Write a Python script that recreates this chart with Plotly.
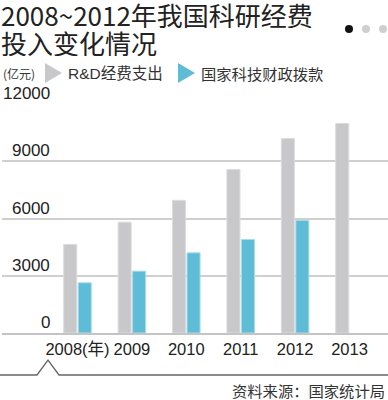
import plotly.graph_objects as go

years = ["2008(年)", "2009", "2010", "2011", "2012", "2013"]
rd_spending = [4640, 5810, 6950, 8570, 10190, 10980]
fiscal_grants = [2630, 3240, 4200, 4900, 5900, None]
y_ticks = [0, 3000, 6000, 9000, 12000]
y_tick_labels = ["0", "3000", "6000", "9000", "12000"]

W, H = 388, 400
ML, MR, MT, MB = 2, 0, 104, 67
PW, PH = W - ML - MR, H - MT - MB
GRAY = "#c8c8ca"
BLUE = "#5ebcd6"

fig = go.Figure()
fig.add_trace(go.Bar(x=years, y=rd_spending, name="R&D经费支出",
                     marker=dict(color=GRAY, line=dict(color="#dcdcde", width=1))))
fig.add_trace(go.Bar(x=years, y=fiscal_grants, name="国家科技财政拨款",
                     marker=dict(color=BLUE, line=dict(color="#a8dcea", width=1))))

def px(x):
    return (x - ML) / PW

def py(y):
    return (H - MB - y) / PH

annotations = []
for v, t in zip(y_ticks, y_tick_labels):
    annotations.append(dict(x=px(52), y=v, xref="paper", yref="y", text=t,
                            showarrow=False, xanchor="right", yanchor="bottom",
                            yshift=-1,
                            font=dict(family="Liberation Sans, Noto Sans", size=17, color="#222")))

for text, cy in [("2008~2012年我国科研经费", 14.5), ("投入变化情况", 42.5)]:
    annotations.append(dict(x=px(0), y=py(cy), xref="paper", yref="paper",
                            text=text, showarrow=False, xanchor="left", yanchor="middle",
                            height=27, valign="middle", borderpad=0,
                            font=dict(family="Noto Sans CJK SC", size=26, color="#222")))
annotations.append(dict(x=px(1), y=py(73), xref="paper", yref="paper", text="(亿元)",
                        showarrow=False, xanchor="left", yanchor="middle",
                        font=dict(family="Noto Sans CJK SC", size=12, color="#333")))
annotations.append(dict(x=px(66), y=py(73), xref="paper", yref="paper", text="R&D经费支出",
                        showarrow=False, xanchor="left", yanchor="middle",
                        font=dict(family="Liberation Sans, Noto Sans CJK SC", size=15.5, color="#333")))
annotations.append(dict(x=px(199), y=py(73), xref="paper", yref="paper", text="国家科技财政拨款",
                        showarrow=False, xanchor="left", yanchor="middle",
                        font=dict(family="Noto Sans CJK SC", size=15.3, color="#333")))
annotations.append(dict(x=px(387), y=py(390), xref="paper", yref="paper", text="资料来源：国家统计局",
                        showarrow=False, xanchor="right", yanchor="middle",
                        font=dict(family="Noto Sans CJK SC", size=15.3, color="#333")))

shapes = []
shapes.append(dict(type="path", xref="paper", yref="paper",
                   path=f"M {px(45)} {py(63)} L {px(62)} {py(73)} L {px(45)} {py(83)} Z",
                   fillcolor=GRAY, line=dict(width=0)))
shapes.append(dict(type="path", xref="paper", yref="paper",
                   path=f"M {px(178)} {py(63)} L {px(195)} {py(73)} L {px(178)} {py(83)} Z",
                   fillcolor=BLUE, line=dict(width=0)))
for cx, col in [(349, "#111"), (366, "#cfcfcf"), (383, "#cfcfcf")]:
    r = 4
    shapes.append(dict(type="circle", xref="paper", yref="paper",
                       x0=px(cx - r), x1=px(cx + r), y0=py(29 + r), y1=py(29 - r),
                       fillcolor=col, line=dict(width=0)))
shapes.append(dict(type="path", xref="paper", yref="paper",
                   path=(f"M {px(0)} {py(375)} L {px(37)} {py(375)} L {px(48)} {py(360)} "
                         f"L {px(59)} {py(375)} L {px(388)} {py(375)}"),
                   line=dict(color="#666", width=1.3)))

fig.update_layout(
    width=W, height=H,
    margin=dict(l=ML, r=MR, t=MT, b=MB),
    paper_bgcolor="white", plot_bgcolor="white",
    barmode="group", bargap=0.467, bargroupgap=0.1,
    showlegend=False,
    annotations=annotations,
    shapes=shapes,
    xaxis=dict(range=[-1.388, 5.708], showgrid=False, zeroline=False,
               showline=True, linecolor="#c4c4c4", linewidth=1.5,
               ticks="",
               tickfont=dict(family="Liberation Sans, Noto Sans CJK SC", size=16.5, color="#222")),
    yaxis=dict(range=[0, 12000], tickvals=y_ticks, showticklabels=False,
               showgrid=True, gridcolor="#cfcfcf", gridwidth=1.5, zeroline=False),
)

fig.write_html("out.html", config={"displayModeBar": False},
               post_script="document.body.style.margin='0';document.body.style.overflow='hidden';")
